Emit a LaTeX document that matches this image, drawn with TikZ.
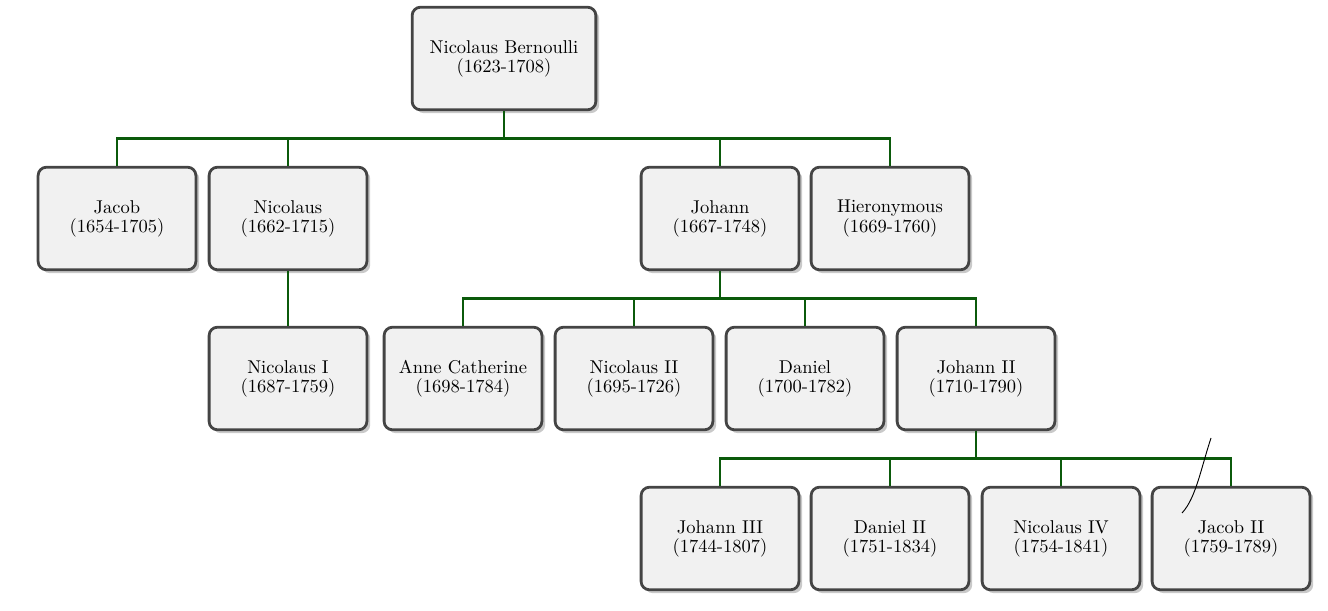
\documentclass[tikz,border=0pt]{standalone}
\usetikzlibrary{shadows}
\definecolor{boxfill}{HTML}{F1F1F1}
\definecolor{boxdraw}{HTML}{444444}
\definecolor{conngreen}{HTML}{0B5A0B}
\tikzset{
  person/.style={draw=boxdraw, line width=1.5pt, fill=boxfill, rounded corners=4.5pt,
    minimum width=85.2pt, minimum height=55.4pt, align=center, inner sep=2pt,
    font=\fontsize{10}{10.3}\selectfont,
    drop shadow={shadow xshift=1.8pt, shadow yshift=-1.8pt, opacity=0.3, fill=black!70}},
  rootperson/.style={person, minimum width=99.2pt},
  conn/.style={draw=conngreen, line width=1.1pt}
}
\begin{document}
\begin{tikzpicture}[x=0.54pt, y=-0.54pt]
\useasboundingbox (0,0) rectangle (1328,611);
% level 0
\node[rootperson] (root) at (504,58.5) {Nicolaus Bernoulli\\(1623-1708)};
% level 1
\node[person] (jacob) at (117,218.5) {Jacob\\(1654-1705)};
\node[person] (nic) at (288,218.5) {Nicolaus\\(1662-1715)};
\node[person] (joh) at (720,218.5) {Johann\\(1667-1748)};
\node[person] (hier) at (890,218.5) {Hieronymous\\(1669-1760)};
% level 2
\node[person] (nicI) at (288,378.5) {Nicolaus I\\(1687-1759)};
\node[person] (anne) at (463,378.5) {Anne Catherine\\(1698-1784)};
\node[person] (nicII) at (634,378.5) {Nicolaus II\\(1695-1726)};
\node[person] (dan) at (805,378.5) {Daniel\\(1700-1782)};
\node[person] (johII) at (976,378.5) {Johann II\\(1710-1790)};
% level 3
\node[person] (johIII) at (720,538.5) {Johann III\\(1744-1807)};
\node[person] (danII) at (890,538.5) {Daniel II\\(1751-1834)};
\node[person] (nicIV) at (1061,538.5) {Nicolaus IV\\(1754-1841)};
\node[person] (jacII) at (1231,538.5) {Jacob II\\(1759-1789)};
% forks
\coordinate (f0) at (504,138.5);
\coordinate (f1) at (720,298.5);
\coordinate (f2) at (976,458.5);
\draw[conn] (root.south) -- (f0);
\foreach \c in {jacob,nic,joh,hier} \draw[conn] (\c.north) |- (f0);
\draw[conn] (nic.south) -- (nicI.north);
\draw[conn] (joh.south) -- (f1);
\foreach \c in {anne,nicII,dan,johII} \draw[conn] (\c.north) |- (f1);
\draw[conn] (johII.south) -- (f2);
\foreach \c in {johIII,danII,nicIV,jacII} \draw[conn] (\c.north) |- (f2);
% stray stroke
\draw[black, line width=0.5pt] (1211,438) .. controls (1201,468) and (1196,498) .. (1182,513);
\end{tikzpicture}
\end{document}
